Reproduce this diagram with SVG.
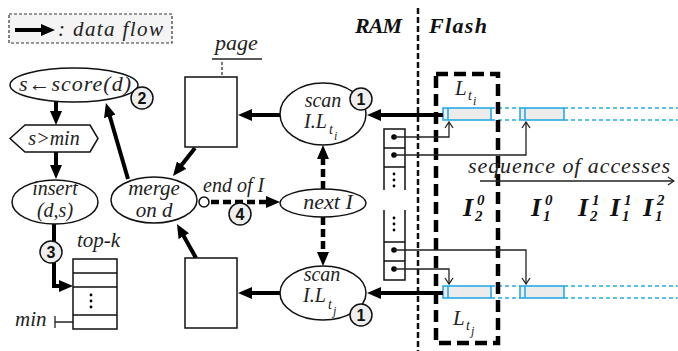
<svg xmlns="http://www.w3.org/2000/svg" width="678" height="351" viewBox="0 0 678 351">
<style>
.t{font-family:"Liberation Serif","Times New Roman",serif;font-style:italic;fill:#222}
.b{font-family:"Liberation Serif","Times New Roman",serif;font-style:italic;font-weight:bold;fill:#111}
.n{font-family:"Liberation Sans",Arial,sans-serif;font-weight:bold;font-size:16px;fill:#111;text-anchor:middle}
.node{fill:#fff;stroke:#111;stroke-width:1.5}
.badge{fill:#eee;stroke:#111;stroke-width:1.5}
.thick{stroke:#000;stroke-width:4;fill:none}
.dthick{stroke:#000;stroke-width:4.5;fill:none;stroke-dasharray:8,4}
.thin{stroke:#222;stroke-width:1.3;fill:none}
.bar{fill:#ececec;stroke:#29abe2;stroke-width:1.6}
.barl{stroke:#29abe2;stroke-width:1.6}
.bard{stroke:#29abe2;stroke-width:1.6;stroke-dasharray:4,3}
</style>
<defs>
<marker id="ah" markerWidth="14" markerHeight="12" refX="8" refY="6" orient="auto" markerUnits="userSpaceOnUse"><path d="M0,0 L14,6 L0,12 z" fill="#000"/></marker>
<marker id="oa" markerWidth="8" markerHeight="10" refX="7" refY="5" orient="auto" markerUnits="userSpaceOnUse"><path d="M1,1 L7,5 L1,9" fill="none" stroke="#222" stroke-width="1.3"/></marker>
<marker id="sa" markerWidth="9" markerHeight="8" refX="8" refY="4" orient="auto" markerUnits="userSpaceOnUse"><path d="M0,1 L8,4 L0,7 z" fill="#222"/></marker>
</defs>
<rect width="678" height="351" fill="#fff"/>

<!-- legend -->
<g id="legend">
<rect x="9" y="14" width="163" height="29" fill="#f4f4f4" stroke="#333" stroke-width="1.2" stroke-dasharray="3,2"/>
<line x1="15" y1="30" x2="49" y2="30" class="thick" marker-end="url(#ah)"/>
<text x="58" y="36" class="t" font-size="21" textLength="105">: data flow</text>
</g>

<!-- RAM / Flash divider -->
<g id="divider">
<line x1="418" y1="8" x2="418" y2="351" stroke="#111" stroke-width="2.5" stroke-dasharray="6,3"/>
<text x="355" y="33" class="b" font-size="22" textLength="47">RAM</text>
<text x="429" y="33" class="b" font-size="22" textLength="58">Flash</text>
</g>

<!-- flash lists -->
<g id="flash-top">
<line x1="491" y1="108" x2="520" y2="108" class="bard"/>
<line x1="491" y1="120" x2="520" y2="120" class="bard"/>
<line x1="564" y1="108" x2="678" y2="108" class="bard"/>
<line x1="564" y1="120" x2="678" y2="120" class="bard"/>
<rect x="443" y="108" width="48" height="12" class="bar"/>
<line x1="448" y1="108" x2="448" y2="120" class="barl"/>
<rect x="520" y="108" width="44" height="12" class="bar"/>
<line x1="525" y1="108" x2="525" y2="120" class="barl"/>
</g>
<g id="flash-bottom">
<line x1="491" y1="286" x2="520" y2="286" class="bard"/>
<line x1="491" y1="298" x2="520" y2="298" class="bard"/>
<line x1="564" y1="286" x2="678" y2="286" class="bard"/>
<line x1="564" y1="298" x2="678" y2="298" class="bard"/>
<rect x="443" y="286" width="48" height="12" class="bar"/>
<line x1="448" y1="286" x2="448" y2="298" class="barl"/>
<rect x="520" y="286" width="44" height="12" class="bar"/>
<line x1="525" y1="286" x2="525" y2="298" class="barl"/>
</g>

<g id="lists-box">
<rect x="436" y="74" width="62" height="269" fill="none" stroke="#000" stroke-width="4.5" stroke-dasharray="12,6"/>
<text x="455" y="95" class="t" font-size="21">L</text>
<text x="468" y="100" class="t" font-size="14">t</text>
<text x="473" y="105" class="t" font-size="12">i</text>
<text x="453" y="325" class="t" font-size="21">L</text>
<text x="466" y="330" class="t" font-size="14">t</text>
<text x="471" y="335" class="t" font-size="12">j</text>
</g>

<!-- pointer stacks -->
<g id="ptr-top">
<path d="M384,190 V129 H405 V190 M384,148 H405 M384,167 H405" fill="none" stroke="#111" stroke-width="1.5"/>
<circle cx="394" cy="137" r="2.8" fill="#000"/>
<circle cx="394" cy="155" r="2.8" fill="#000"/>
<circle cx="394" cy="174" r="1.4" fill="#000"/>
<circle cx="394" cy="180" r="1.4" fill="#000"/>
<circle cx="394" cy="186" r="1.4" fill="#000"/>
</g>
<g id="ptr-bottom">
<path d="M384,210 V280 H405 V210 M384,242 H405 M384,261 H405" fill="none" stroke="#111" stroke-width="1.5"/>
<circle cx="394" cy="250" r="2.8" fill="#000"/>
<circle cx="394" cy="269" r="2.8" fill="#000"/>
<circle cx="394" cy="218" r="1.4" fill="#000"/>
<circle cx="394" cy="224" r="1.4" fill="#000"/>
<circle cx="394" cy="230" r="1.4" fill="#000"/>
</g>

<!-- sequence of accesses -->
<g id="sequence">
<text x="468" y="173" class="t" font-size="22" textLength="202">sequence of accesses</text>
<line x1="480" y1="181" x2="674" y2="181" class="thin" marker-end="url(#oa)"/>
<text x="463" y="216" class="b" font-size="26">I</text><text x="477" y="205" class="b" font-size="15">0</text><text x="475" y="221" class="b" font-size="15">2</text>
<text x="531" y="216" class="b" font-size="26">I</text><text x="545" y="205" class="b" font-size="15">0</text><text x="543" y="221" class="b" font-size="15">1</text>
<text x="578" y="216" class="b" font-size="26">I</text><text x="592" y="205" class="b" font-size="15">1</text><text x="590" y="221" class="b" font-size="15">2</text>
<text x="610" y="216" class="b" font-size="26">I</text><text x="624" y="205" class="b" font-size="15">1</text><text x="622" y="221" class="b" font-size="15">1</text>
<text x="643" y="216" class="b" font-size="26">I</text><text x="657" y="205" class="b" font-size="15">2</text><text x="655" y="221" class="b" font-size="15">1</text>
</g>

<!-- connectors -->
<g id="connectors">
<line x1="56" y1="102" x2="56" y2="119" class="thick" marker-end="url(#ah)"/>
<line x1="56" y1="152" x2="56" y2="173" class="thick" marker-end="url(#ah)"/>
<line x1="128" y1="179" x2="107.6" y2="108.8" class="thick" marker-end="url(#ah)"/>
<line x1="195" y1="148" x2="176.7" y2="171.3" class="thick" marker-end="url(#ah)"/>
<line x1="196" y1="258" x2="179.9" y2="229.2" class="thick" marker-end="url(#ah)"/>
<line x1="280" y1="115" x2="244" y2="115" class="thick" marker-end="url(#ah)"/>
<line x1="443" y1="115" x2="373" y2="115" class="thick" marker-end="url(#ah)"/>
<line x1="280" y1="293" x2="244" y2="293" class="thick" marker-end="url(#ah)"/>
<line x1="443" y1="293" x2="373" y2="293" class="thick" marker-end="url(#ah)"/>
<line x1="323" y1="189" x2="323" y2="151" class="dthick" marker-end="url(#ah)"/>
<line x1="323" y1="217" x2="323" y2="260" class="dthick" marker-end="url(#ah)"/>
<line x1="211" y1="202" x2="274" y2="202" class="dthick" marker-end="url(#ah)"/>
<path d="M54,224 V286 H67" class="thick" marker-end="url(#ah)"/>
<line x1="222" y1="62" x2="222" y2="92" stroke="#222" stroke-width="1.2" stroke-dasharray="3,2" marker-end="url(#sa)"/>
<path d="M55,322 H88" class="thin" marker-end="url(#sa)"/>
<line x1="55" y1="316" x2="55" y2="328" class="thin"/>
<path d="M394,137 H449 V122" class="thin" marker-end="url(#oa)"/>
<path d="M394,155 H526 V122" class="thin" marker-end="url(#oa)"/>
<path d="M394,250 H526 V284" class="thin" marker-end="url(#oa)"/>
<path d="M394,269 H449 V284" class="thin" marker-end="url(#oa)"/>
</g>

<!-- nodes -->
<g id="score">
<ellipse cx="74" cy="85" rx="64" ry="17" class="node"/>
<text x="19" y="91" class="t" font-size="22" textLength="112">s←score(d)</text>
</g>
<g id="badge2"><circle cx="142" cy="98" r="11" class="badge"/><text x="142" y="104" class="n">2</text></g>

<g id="smin">
<polygon points="10,138.5 25,125 90,125 98,138.5 90,152 25,152" class="node"/>
<text x="54" y="145" class="t" font-size="20" text-anchor="middle">s&gt;min</text>
</g>

<g id="insert">
<ellipse cx="55" cy="202" rx="43" ry="22" class="node"/>
<text x="55" y="195" class="t" font-size="20" text-anchor="middle">insert</text>
<text x="55" y="217" class="t" font-size="20" text-anchor="middle">(d,s)</text>
</g>
<g id="badge3"><circle cx="51" cy="252" r="11" class="badge"/><text x="51" y="258" class="n">3</text></g>

<g id="topk">
<text x="77" y="247" class="t" font-size="21">top-k</text>
<rect x="73" y="259" width="44" height="70" class="node"/>
<path d="M73,273 H117 M73,287 H117 M73,315 H117" stroke="#111" stroke-width="1.5"/>
<circle cx="91" cy="295" r="1.4" fill="#000"/>
<circle cx="91" cy="301" r="1.4" fill="#000"/>
<circle cx="91" cy="307" r="1.4" fill="#000"/>
<text x="15" y="326" class="t" font-size="21">min</text>
</g>

<g id="merge">
<ellipse cx="154" cy="200" rx="43" ry="23" class="node"/>
<text x="154" y="195" class="t" font-size="21" text-anchor="middle">merge</text>
<text x="154" y="217" class="t" font-size="21" text-anchor="middle">on d</text>
<circle cx="204" cy="202" r="5" class="node"/>
</g>

<g id="page-top">
<text x="215" y="50" class="t" font-size="22">page</text>
<line x1="212" y1="59" x2="262" y2="59" stroke="#222" stroke-width="1.3"/>
<rect x="185" y="77" width="52" height="70" class="node"/>
</g>
<g id="page-bottom">
<rect x="185" y="258" width="52" height="70" class="node"/>
</g>

<g id="endofI">
<text x="203" y="192" class="t" font-size="20">end of I</text>
</g>
<g id="badge4"><circle cx="240" cy="214" r="11" class="badge"/><text x="240" y="220" class="n">4</text></g>

<g id="scan-top">
<ellipse cx="323" cy="114" rx="43" ry="31" class="node"/>
<text x="323" y="107" class="t" font-size="20" text-anchor="middle">scan</text>
<text x="304" y="128" class="t" font-size="20">I.L</text>
<text x="329" y="134" class="t" font-size="14">t</text>
<text x="334" y="140" class="t" font-size="12">i</text>
</g>
<g id="badge1a"><circle cx="361" cy="99" r="11" class="badge"/><text x="361" y="105" class="n">1</text></g>

<g id="next">
<ellipse cx="323" cy="203" rx="43" ry="14" class="node"/>
<text x="328" y="209" class="t" font-size="22" text-anchor="middle">next I</text>
</g>

<g id="scan-bottom">
<ellipse cx="323" cy="293" rx="43" ry="27" class="node"/>
<text x="322" y="281" class="t" font-size="20" text-anchor="middle">scan</text>
<text x="303" y="302" class="t" font-size="20">I.L</text>
<text x="328" y="309" class="t" font-size="14">t</text>
<text x="333" y="315" class="t" font-size="12">j</text>
</g>
<g id="badge1b"><circle cx="361" cy="315" r="11" class="badge"/><text x="361" y="321" class="n">1</text></g>
</svg>
